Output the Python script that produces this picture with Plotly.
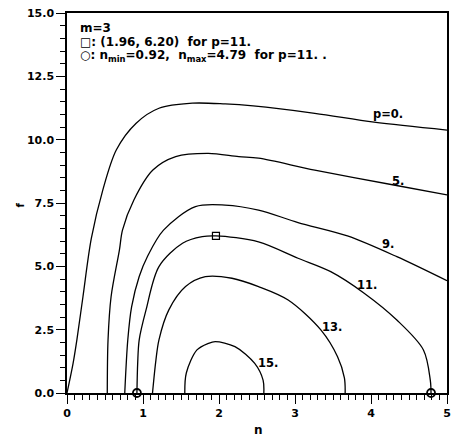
import plotly.graph_objects as go

# ---- data ----
p0_n = [0.00, 0.08, 0.13, 0.21, 0.32, 0.47, 0.65, 0.91, 1.21, 1.65, 2.08, 2.45, 3.26, 4.04, 5.00]
p0_f = [0.00, 1.17, 2.10, 3.80, 6.10, 8.00, 9.60, 10.65, 11.24, 11.44, 11.41, 11.33, 11.04, 10.69, 10.38]

p5_n = [0.53, 0.54, 0.58, 0.69, 0.73, 0.88, 1.13, 1.43, 1.86, 2.26, 2.52, 3.26, 4.30, 5.00]
p5_f = [0.00, 2.10, 3.80, 5.65, 6.43, 7.62, 8.80, 9.33, 9.46, 9.33, 9.27, 8.80, 8.21, 7.82]

p9_n = [0.76, 0.80, 0.85, 0.95, 1.06, 1.27, 1.69, 2.08, 2.52, 3.04, 3.69, 4.34, 5.00]
p9_f = [0.00, 2.10, 3.40, 4.60, 5.40, 6.43, 7.36, 7.42, 7.22, 6.73, 6.20, 5.38, 4.43]

p11_n = [0.92, 0.93, 0.95, 1.04, 1.21, 1.52, 1.78, 1.96, 2.52, 3.04, 3.47, 3.91, 4.34, 4.69, 4.78, 4.79]
p11_f = [0.00, 1.17, 2.10, 3.28, 4.99, 5.91, 6.17, 6.20, 5.97, 5.32, 4.79, 3.94, 2.88, 1.70, 0.51, 0.00]

p13_n = [1.125, 1.17, 1.21, 1.34, 1.56, 1.82, 2.17, 2.52, 2.91, 3.34, 3.56, 3.65, 3.66]
p13_f = [0.00, 1.30, 2.10, 3.28, 4.20, 4.59, 4.53, 4.20, 3.67, 2.49, 1.43, 0.60, 0.00]

p15_n = [1.55, 1.57, 1.71, 1.86, 1.95, 2.21, 2.47, 2.58, 2.59]
p15_f = [0.00, 0.79, 1.70, 1.96, 2.03, 1.83, 1.17, 0.51, 0.00]

curves = [(p0_n, p0_f), (p5_n, p5_f), (p9_n, p9_f), (p11_n, p11_f), (p13_n, p13_f), (p15_n, p15_f)]

label_text = ["p=0.", "5.", "9.", "11.", "13.", "15."]
label_n = [4.23, 4.36, 4.22, 3.95, 3.49, 2.65]
label_f = [11.0, 8.37, 5.88, 4.26, 2.59, 1.18]

square_n = [1.96]
square_f = [6.20]
circle_n = [0.92, 4.79]
circle_f = [0.0, 0.0]

x_tick_step = 1
y_tick_step = 2.5

legend_lines = [
    "m=3",
    "\u25a1: (1.96, 6.20)  for p=11.",
    "\u25cb: n<sub>min</sub>=0.92,  n<sub>max</sub>=4.79  for p=11. .",
]

FONT = "DejaVu Sans"

fig = go.Figure()
for n, f in curves:
    fig.add_trace(go.Scatter(x=n, y=f, mode="lines",
                             line=dict(color="black", width=1.3, shape="spline", smoothing=0.9),
                             hoverinfo="skip", showlegend=False))

fig.add_trace(go.Scatter(x=square_n, y=square_f, mode="markers",
                         marker=dict(symbol="square-open", size=7, color="black", line=dict(width=1.2)),
                         showlegend=False, cliponaxis=False))
fig.add_trace(go.Scatter(x=circle_n, y=circle_f, mode="markers",
                         marker=dict(symbol="circle-open", size=8, color="black", line=dict(width=1.8)),
                         showlegend=False, cliponaxis=False))

annotations = []
for t, x, y in zip(label_text, label_n, label_f):
    annotations.append(dict(x=x, y=y, text=t, showarrow=False, xref="x", yref="y",
                            font=dict(family=FONT, size=11.5, color="black", weight="bold")))

legend_y = [0.9605, 0.9237, 0.8868]
for t, y in zip(legend_lines, legend_y):
    annotations.append(dict(x=0.029, y=y, xref="paper", yref="paper", text=t, showarrow=False,
                            xanchor="left", yanchor="middle",
                            font=dict(family=FONT, size=12, color="black", weight="bold")))

annotations.append(dict(x=0.503, y=-0.097, xref="paper", yref="paper", text="n", showarrow=False,
                        xanchor="center", yanchor="middle",
                        font=dict(family=FONT, size=12, color="black", weight="bold")))
annotations.append(dict(x=-0.122, y=0.495, xref="paper", yref="paper", text="f", showarrow=False,
                        xanchor="center", yanchor="middle", textangle=-90,
                        font=dict(family=FONT, size=10, color="black", weight="bold")))

fig.update_layout(
    width=453, height=442,
    margin=dict(l=67, r=2, t=13, b=49),
    paper_bgcolor="white", plot_bgcolor="white",
    annotations=annotations,
    showlegend=False,
)
fig.update_xaxes(range=[0, 5], tickmode="linear", tick0=0, dtick=x_tick_step, tickformat="d",
                 showgrid=False, zeroline=False, showline=True, linecolor="black", linewidth=1.5,
                 mirror=True, ticks="outside", ticklen=9, tickwidth=1.3, tickcolor="black",
                 minor=dict(tick0=0, dtick=0.1, ticks="outside", ticklen=5, tickwidth=1.2,
                            tickcolor="black", showgrid=False),
                 tickfont=dict(family=FONT, size=11, color="black", weight="bold"), fixedrange=True)
fig.update_yaxes(range=[0, 15], tickmode="linear", tick0=0, dtick=y_tick_step, tickformat=".1f",
                 showgrid=False, zeroline=False, showline=True, linecolor="black", linewidth=1.5,
                 mirror=True, ticks="outside", ticklen=9, tickwidth=1.3, tickcolor="black",
                 minor=dict(tick0=0, dtick=0.5, ticks="outside", ticklen=5, tickwidth=1.2,
                            tickcolor="black", showgrid=False),
                 tickfont=dict(family=FONT, size=11, color="black", weight="bold"), fixedrange=True)

fig.write_html("out.html")
